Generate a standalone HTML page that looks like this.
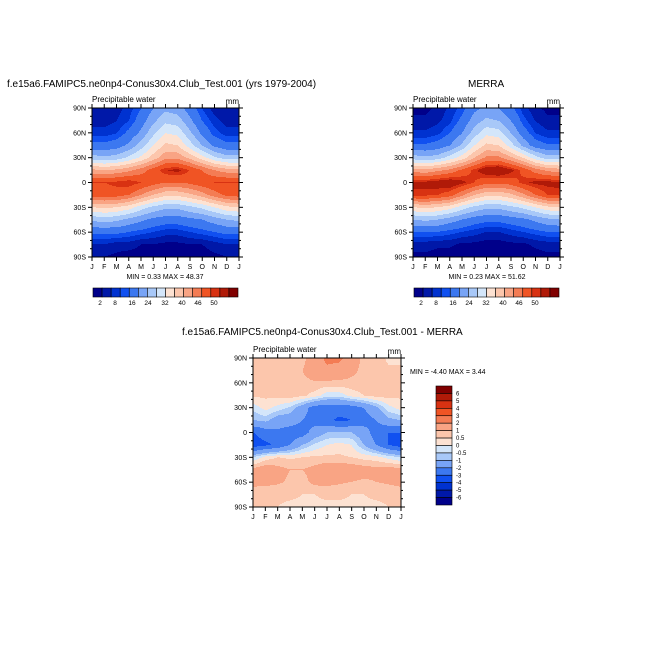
<!DOCTYPE html>
<html><head><meta charset="utf-8">
<style>
body{margin:0;background:#fff;width:654px;height:654px;overflow:hidden;position:relative;font-family:"Liberation Sans",sans-serif;}
.t{position:absolute;white-space:nowrap;color:#000;}
canvas{position:absolute;image-rendering:pixelated;}
svg{position:absolute;left:0;top:0;}
</style></head><body>
<div class="t" style="left:7px;top:79px;font-size:10px;">f.e15a6.FAMIPC5.ne0np4-Conus30x4.Club_Test.001 (yrs 1979-2004)</div>
<div class="t" style="left:468px;top:79px;font-size:10px;">MERRA</div>
<div class="t" style="left:182px;top:327px;font-size:10px;">f.e15a6.FAMIPC5.ne0np4-Conus30x4.Club_Test.001 - MERRA</div>
<canvas id="c1" width="147" height="149" style="left:92px;top:108px;width:147px;height:149px"></canvas>
<canvas id="c2" width="147" height="149" style="left:413px;top:108px;width:147px;height:149px"></canvas>
<canvas id="c3" width="148" height="149" style="left:253px;top:358px;width:148px;height:149px"></canvas>
<svg id="s" width="654" height="654"></svg>
<script>
const months=["J","F","M","A","M","J","J","A","S","O","N","D","J"];
const latLabels=["90N","60N","30N","0","30S","60S","90S"];
const fullLevels=[2,4,6,8,12,16,20,24,28,32,36,40,44,46,50];
const fullLabels=["2","8","16","24","32","40","46","50"];
const diffLevels=[-6,-5,-4,-3,-2,-1,-0.5,0,0.5,1,2,3,4,5,6];
const modelPW=[
[2,2,3,5,8,12,15,14,10,6,3,2,2],
[3,3,4,6,10,15,19,18,13,8,5,3,3],
[5,5,6,9,13,19,24,23,17,11,7,5,5],
[9,9,10,13,18,24,29,28,22,16,11,9,9],
[18,17,18,21,25,30,35,35,31,26,21,18,18],
[33,32,33,35,38,42,46,47,44,40,36,34,33],
[44,44,45,46,44,42,40,40,41,43,44,44,44],
[42,42,42,40,36,32,29,29,31,34,38,41,42],
[28,29,28,26,22,19,17,17,19,21,24,27,28],
[17,18,17,15,13,11,10,10,11,12,14,16,17],
[9,9,9,8,7,6,5,5,6,7,8,9,9],
[4,4,3,3,2,2,1.5,1.5,2,2,3,4,4],
[2,2,1.5,1,1,0.8,0.6,0.6,0.8,1,1.5,2,2]];
const merraPW=[
[1.5,1.5,2.5,4.5,7,11,13,12,9,5,2.5,1.5,1.5],
[2.5,2.5,3.5,5.5,9,14,17,16,12,7,4,2.5,2.5],
[4.5,4.5,5.5,8,12,18,23,22,16,10,6,4.5,4.5],
[8.5,8.5,9.5,12,17,24,29,28,22,15,10,8.5,8.5],
[18,17,18,22,26,32,37,37,33,28,22,18,18],
[34,33,35,37,41,45,49,50,47,43,38,35,34],
[47,47,48,49,47,44,41,41,42,45,47,47,47],
[45,45,44,42,37,32,29,29,31,35,40,44,45],
[28,29,28,26,22,19,17,17,19,21,24,27,28],
[16,17,16,14,12,10,9,9,10,11,13,15,16],
[8,8,8,7,6,5,4,4,5,6,7,8,8],
[3,3,2.5,2.5,1.5,1.5,1,1,1.5,1.5,2.5,3,3],
[1.5,1.5,1,0.7,0.6,0.5,0.3,0.3,0.5,0.7,1,1.5,1.5]];
const diffPW=[
[0.8,0.8,0.8,0.8,0.8,1.5,2.2,2.2,1.5,0.8,0.8,0.4,0.4],
[0.8,0.6,0.7,0.8,1,1.5,1.8,1.6,1.2,0.8,0.8,0.6,0.6],
[0.7,0.7,0.8,0.8,0.8,0.9,0.8,0.8,0.8,0.8,0.8,0.7,0.7],
[0.6,0.6,0.7,0.8,0.6,0.3,-0.3,-0.3,0.2,0.5,0.7,0.7,0.6],
[-0.3,0.2,-0.2,-0.6,-1.5,-2.5,-2.5,-2.5,-2.5,-2,-1.2,-0.2,0.2],
[-1,-0.8,-1.5,-1.5,-2,-2.5,-2.8,-3.2,-3,-2.5,-2,-1.2,-1],
[-3,-2.5,-2.2,-2.5,-2.5,-1.5,-1,-1,-1,-1.5,-2.5,-3,-3],
[-3.5,-3.2,-2.8,-2,-1,-0.4,0,0.2,0,-1,-2,-3,-3.5],
[-0.5,0.2,0.5,0.4,0.5,0.6,0.6,0.6,0.5,0.3,0.2,-0.2,-0.5],
[1.2,1.5,1.2,1,1,1.2,1.5,1.5,1.4,1.3,1.2,1.3,1.2],
[1.2,1.2,1.1,0.9,0.8,1.2,1.2,1.1,1,0.9,1,1.1,1.2],
[0.7,0.6,0.6,0.6,0.5,0.5,0.6,0.6,0.5,0.5,0.6,0.6,0.7],
[0.7,0.5,0.5,0.4,0.4,0.4,0.4,0.4,0.4,0.4,0.4,0.5,0.6]];
const colors=["#00008a","#0018a8","#0032d0","#1050f0","#3c78f0","#78a4f6","#a8c8f8","#d4e6fa","#fde2d2","#fcc6ac","#f9a484","#f47c54","#f05424","#d83212","#b01a08","#800000"];

function hex(c){return [parseInt(c.substr(1,2),16),parseInt(c.substr(3,2),16),parseInt(c.substr(5,2),16)];}
function xScale(m,w){return m/(months.length-1)*w;}
function interp(grid,fx,fy){
  const nx=grid[0].length-1,ny=grid.length-1;
  let gx=fx*nx,gy=fy*ny;let i=Math.min(Math.floor(gx),nx-1),j=Math.min(Math.floor(gy),ny-1);
  let tx=gx-i,ty=gy-j;
  return grid[j][i]*(1-tx)*(1-ty)+grid[j][i+1]*tx*(1-ty)+grid[j+1][i]*(1-tx)*ty+grid[j+1][i+1]*tx*ty;
}
function draw(id,grid,levels){
  const cv=document.getElementById(id),ctx=cv.getContext('2d'),W=cv.width,H=cv.height;
  const img=ctx.createImageData(W,H);const cols=colors.map(hex);
  for(let y=0;y<H;y++)for(let x=0;x<W;x++){
    const v=interp(grid,x/(W-1),y/(H-1));let k=0;while(k<levels.length&&v>=levels[k])k++;
    const c=cols[k],p=(y*W+x)*4;img.data[p]=c[0];img.data[p+1]=c[1];img.data[p+2]=c[2];img.data[p+3]=255;}
  ctx.putImageData(img,0,0);
}
draw('c1',modelPW,fullLevels);draw('c2',merraPW,fullLevels);draw('c3',diffPW,diffLevels);

const svg=document.getElementById('s');const NS="http://www.w3.org/2000/svg";
function el(t,a,txt){const e=document.createElementNS(NS,t);for(const k in a)e.setAttribute(k,a[k]);if(txt!=null)e.textContent=txt;svg.appendChild(e);return e;}
function axes(x0,y0,w,h,name,minmax,mmx,mmy){
  const b=el('rect',{x:x0,y:y0,width:w,height:h,fill:'none',stroke:'#000','stroke-width':1});
  
  for(let m=0;m<months.length;m++){const x=x0+xScale(m,w);
    el('line',{x1:x,y1:y0+h,x2:x,y2:y0+h+4,stroke:'#000'});el('line',{x1:x,y1:y0,x2:x,y2:y0-4,stroke:'#000'});
    const t=el('text',{x:x,y:y0+h+12,'font-size':7,'text-anchor':'middle','font-family':'Liberation Sans'},months[m]);
    }
  for(let i=0;i<=18;i++){const y=y0+i/18*h;const maj=i%3==0;
    el('line',{x1:x0,y1:y,x2:x0-(maj?4:2),y2:y,stroke:'#000'});el('line',{x1:x0+w,y1:y,x2:x0+w+(maj?4:2),y2:y,stroke:'#000'});
    if(maj){const t=el('text',{x:x0-6,y:y+2.5,'font-size':7,'text-anchor':'end','font-family':'Liberation Sans'},latLabels[i/3]);
      }}
  const a=el('text',{x:x0,y:y0-6,'font-size':8,'font-family':'Liberation Sans'},'Precipitable water');
  
  const u=el('text',{x:x0+w,y:y0-4,'font-size':8,'text-anchor':'end','font-family':'Liberation Sans'},'mm');
  
  const mm=el('text',{x:mmx,y:mmy,'font-size':7,'text-anchor':mmx==410?'start':'middle','font-family':'Liberation Sans'},minmax);
  
}
axes(92,108,147,149,'model-plot','MIN =   0.33 MAX =   48.37',165,279);
axes(413,108,147,149,'merra-plot','MIN =   0.23 MAX =   51.62',487,279);
axes(253,358,148,149,'diff-plot','MIN =  -4.40 MAX =   3.44',410,374);

function hbar(x0,name){
  const w=145/16;
  for(let i=0;i<16;i++){const r=el('rect',{x:x0+i*w,y:288,width:w,height:9,fill:colors[i],stroke:'#000','stroke-width':0.6});
    }
  const pos=[7,22,39,55,72,89,105,121];
  for(let i=0;i<fullLabels.length;i++){const t=el('text',{x:x0+pos[i],y:305,'font-size':6.5,'text-anchor':'middle','font-family':'Liberation Sans'},fullLabels[i]);
    }
}
hbar(93,'model-colorbar');hbar(414,'merra-colorbar');
(function(){const h=119/16;
  for(let i=0;i<16;i++){const r=el('rect',{x:436,y:386+i*h,width:16,height:h,fill:colors[15-i],stroke:'#000','stroke-width':0.6});
    }
  for(let i=0;i<diffLevels.length;i++){const v=diffLevels[diffLevels.length-1-i];
    const t=el('text',{x:456,y:386+(i+1)*h+2,'font-size':6,'font-family':'Liberation Sans'},String(v));
    }
})();
</script>
</body></html>
